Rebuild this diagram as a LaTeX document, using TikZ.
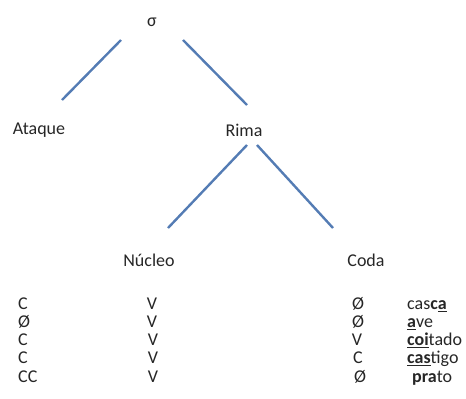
\documentclass[tikz,border=0pt]{standalone}
\usepackage{fontspec}
\setmainfont{Carlito}
\begin{document}
\begin{tikzpicture}[x=1pt,y=-1pt,
  lbl/.style={inner sep=0pt,font=\fontsize{18}{18}\selectfont,text=black!85},
  cell/.style={lbl,anchor=mid},
  cellw/.style={lbl,anchor=mid west},
  branch/.style={draw={rgb,255:red,84;green,124;blue,180},line width=2.4pt}]
\useasboundingbox (0,0) rectangle (466,399);
\node[lbl] (sigma) at (152,22) {σ};
\node[lbl] (ataque) at (39,130) {Ataque};
\node[lbl] (rima) at (244,130) {Rima};
\node[lbl] (nucleo) at (149,260) {Núcleo};
\node[lbl] (coda) at (366,260) {Coda};
\draw[branch] ([shift={(-31,18)}]sigma.center) -- ([shift={(23,-30)}]ataque.center);
\draw[branch] ([shift={(31,18)}]sigma.center) -- ([shift={(3,-25)}]rima.center);
\draw[branch] ([shift={(3,15)}]rima.center) -- ([shift={(19,-32)}]nucleo.center);
\draw[branch] ([shift={(13,15)}]rima.center) -- ([shift={(-33,-32)}]coda.center);
% rows
\node[cellw] (a1) at (18,307) {C};
\node[cellw] (a2) at (18,325) {Ø};
\node[cellw] (a3) at (18,343) {C};
\node[cellw] (a4) at (18,361) {C};
\node[cellw] (a5) at (18,380) {CC};
\node[cell] (b1) at (152,307) {V};
\node[cell] (b2) at (152,325) {V};
\node[cell] (b3) at (153,343) {V};
\node[cell] (b4) at (153,361) {V};
\node[cell] (b5) at (153,380) {V};
\node[cell] (c1) at (358,307) {Ø};
\node[cell] (c2) at (358,325) {Ø};
\node[cell] (c3) at (357,343) {V};
\node[cell] (c4) at (358,361) {C};
\node[cell] (c5) at (360,380) {Ø};
\node[cellw] (d1) at (407,307) {cas\textbf{c\underline{a}}};
\node[cellw] (d2) at (407,325) {\textbf{\underline{a}}ve};
\node[cellw] (d3) at (407,343) {\textbf{\underline{coi}}tado};
\node[cellw] (d4) at (407,361) {\textbf{\underline{cas}}tigo};
\node[cellw] (d5) at (412,380) {\textbf{pra}to};
\end{tikzpicture}
\end{document}
